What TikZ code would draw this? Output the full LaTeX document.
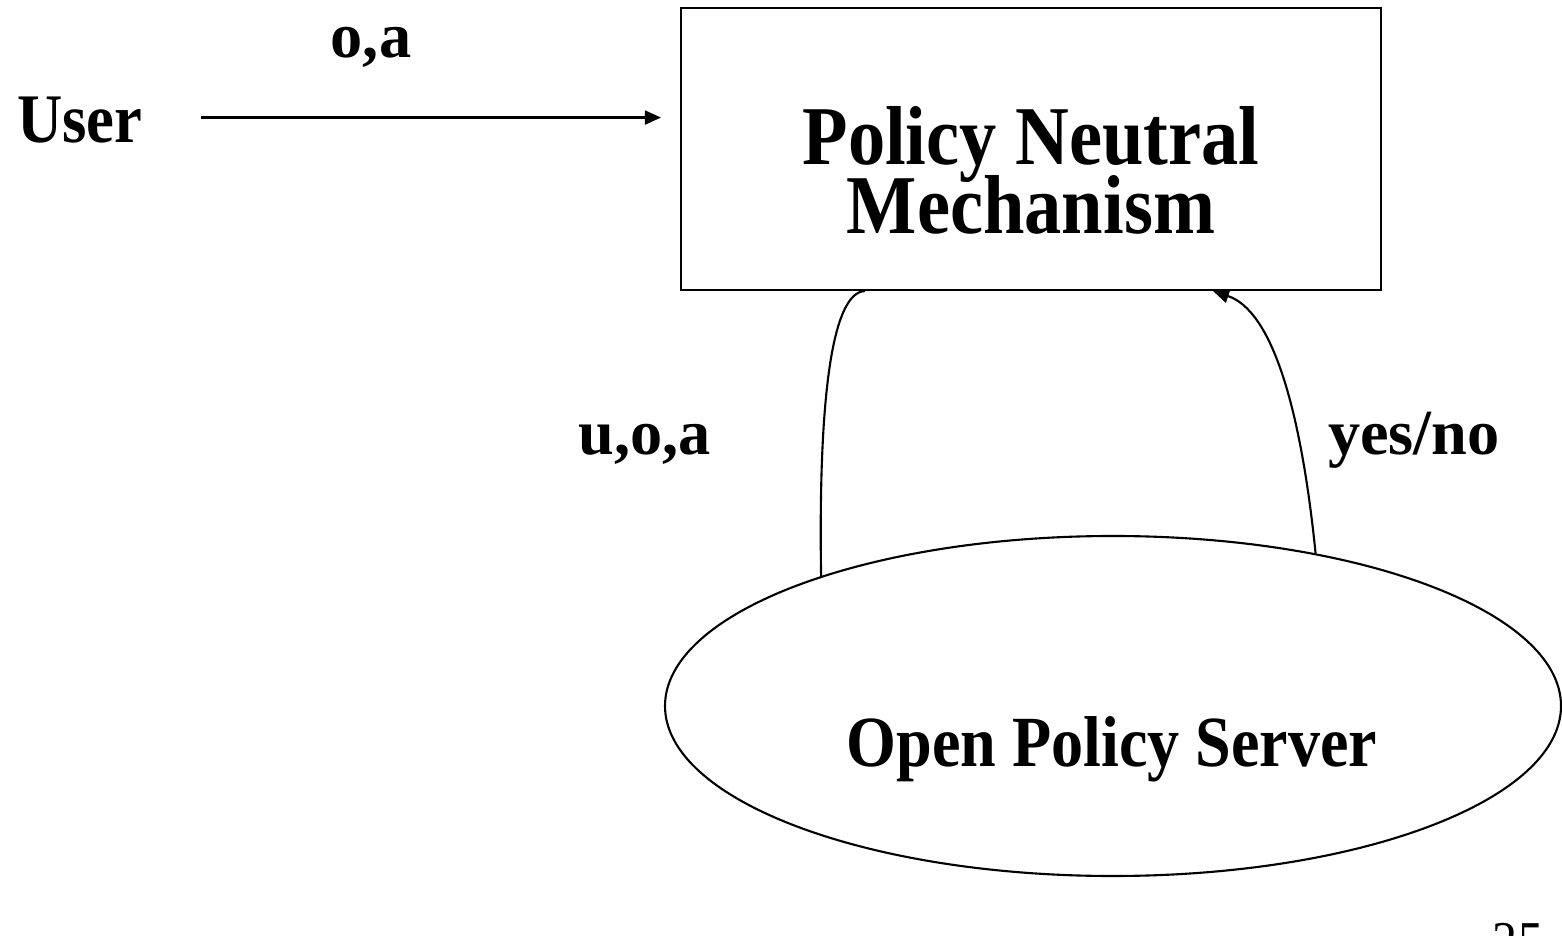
\documentclass[tikz,border=0pt]{standalone}
\usepackage{fontspec}
\setmainfont{Liberation Serif}
\newfontfamily\narrowserif{Liberation Serif}[FakeStretch=0.89]
\newfontfamily\userserif{Liberation Serif}[FakeStretch=0.9]
\usetikzlibrary{shapes.geometric,arrows.meta}

\begin{document}
\begin{tikzpicture}[line width=0.6pt,
                   mechbox/.style={draw,minimum width=7cm,minimum height=2.82cm},
                   serverellipse/.style={draw,ellipse,minimum width=8.96cm,minimum height=3.4cm},
                   bigtext/.style={inner sep=0pt,align=center,font={\narrowserif\bfseries\fontsize{23.8pt}{19.6pt}\selectfont\lineskiplimit=-100pt}},
                   servertext/.style={inner sep=0pt,anchor=base,font={\narrowserif\bfseries\fontsize{20.5pt}{24pt}\selectfont}},
                   usertext/.style={inner sep=0pt,anchor=base,font={\userserif\bfseries\fontsize{19.8pt}{24pt}\selectfont}},
                   edgetext/.style={inner sep=0pt,anchor=base,font={\bfseries\fontsize{18.3pt}{22pt}\selectfont}},
                   pagenum/.style={inner sep=0pt,anchor=north,font={\narrowserif\fontsize{16pt}{19pt}\selectfont}},
                   flow/.style={-{Triangle[length=1.6mm,width=1.4mm]}}]
\useasboundingbox (0,0) rectangle (15.62,-9.36);
% nodes
\node[mechbox] (mech) at (10.31,-1.49) {};
\node[bigtext] (mechtext) at (10.31,-1.70) {Policy Neutral\\Mechanism};
\node[serverellipse] (srv) at (11.13,-7.06) {};
\node[servertext] (srvtext) at (11.12,-7.66) {Open Policy Server};
\node[usertext] (user) at (0.80,-1.43) {User};
\node[edgetext] (oa) at (3.71,-0.58) {o,a};
\node[edgetext] (uoa) at (6.45,-4.55) {u,o,a};
\node[edgetext] (yesno) at (14.14,-4.55) {yes/no};
\node[pagenum] (pageno) at (15.18,-9.22) {25};
% connectors
\draw[flow] ([shift={(0.575,0.03)}]user.east) -- ([shift={(-0.19,0.03)}]user.east -| mech.west);
\draw (srv.156.7) .. controls (8.18,-3.80) and (8.35,-2.92) .. ([xshift=-1.66cm]mech.south);
\draw[flow] (srv.37.8) .. controls (13.00,-4.00) and (12.70,-3.10) .. ([xshift=1.82cm]mech.south);
\end{tikzpicture}
\end{document}
